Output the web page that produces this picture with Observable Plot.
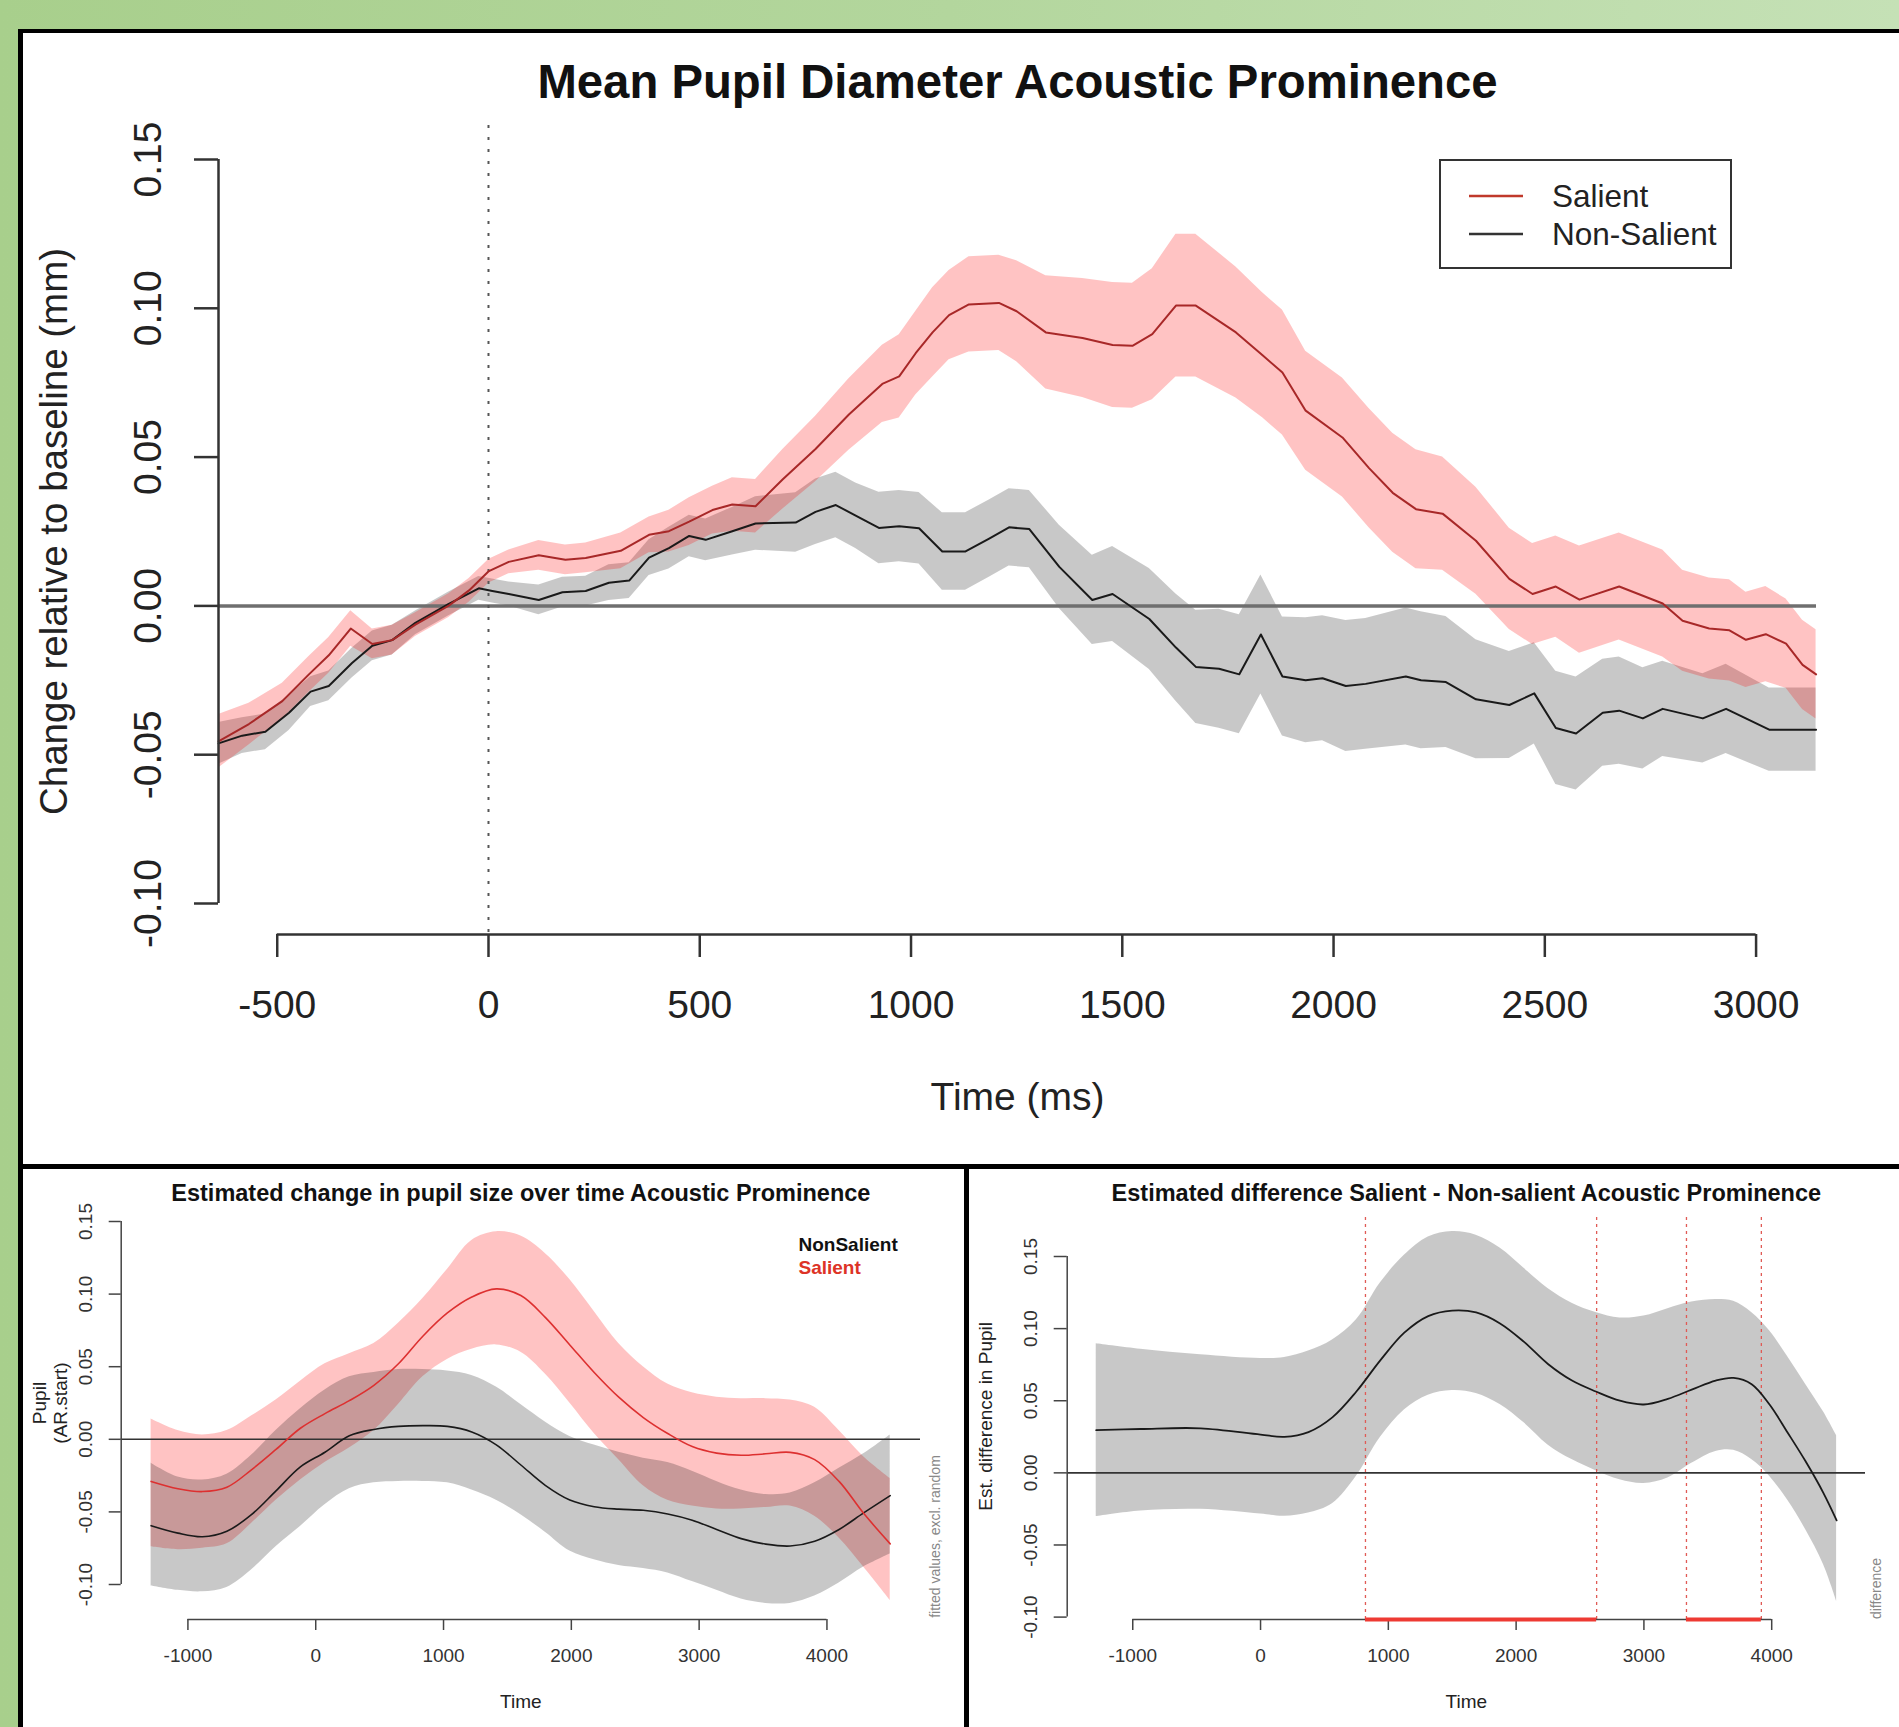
<!DOCTYPE html>
<html><head><meta charset="utf-8">
<script src="https://cdn.jsdelivr.net/npm/d3@7"></script>
<script src="https://cdn.jsdelivr.net/npm/@observablehq/plot@0.6"></script>
<style>
body{margin:0;}
#page{position:relative;width:1899px;height:1727px;background:linear-gradient(90deg,#a8cf8c 0%,#b3d69d 50%,#c5e1b6 100%);overflow:hidden;font-family:"Liberation Sans",Arial,Helvetica,sans-serif;}
#frame{position:absolute;left:18px;top:29px;width:1881px;height:1698px;background:#000;}
.panel{position:absolute;background:#fff;overflow:hidden;}
.panel svg{position:absolute;left:0;top:0;}
#legend{position:absolute;left:1416px;top:126px;width:293px;height:110px;border:2.5px solid #333;box-sizing:border-box;background:#fff;}
</style></head>
<body>
<div id="page">
  <div id="frame"></div>
  <div class="panel" id="top" style="left:23px;top:33px;width:1876px;height:1131px"></div>
  <div class="panel" id="bl" style="left:23px;top:1169px;width:941px;height:558px"></div>
  <div class="panel" id="br" style="left:969px;top:1169px;width:930px;height:558px"></div>
</div>
<script>
// ---------- Top panel: mean pupil diameter ----------
const topSalTime = [-639,-567,-488,-425,-378,-326,-275,-228,-173,-94,-46,1,48,119,182,230,313,380,427,475,530,577,632,696,774,853,932,972,1011,1051,1090,1137,1208,1250,1319,1406,1477,1524,1571,1627,1674,1769,1832,1879,1934,2021,2084,2140,2195,2258,2337,2416,2471,2526,2582,2676,2779,2826,2889,2937,2976,3023,3071,3110,3142];
const topSalMean = [-0.0455,-0.0397,-0.0320,-0.0230,-0.0166,-0.0076,-0.0128,-0.0115,-0.0063,0.0001,0.0052,0.0117,0.0148,0.0170,0.0155,0.0161,0.0185,0.0239,0.0251,0.0283,0.0322,0.0341,0.0335,0.0425,0.0527,0.0643,0.0746,0.0771,0.0849,0.0919,0.0977,0.1013,0.1018,0.0990,0.0919,0.0900,0.0877,0.0874,0.0913,0.1009,0.1009,0.0919,0.0842,0.0784,0.0656,0.0566,0.0463,0.0380,0.0325,0.0310,0.0219,0.0091,0.0040,0.0065,0.0021,0.0065,0.0008,-0.0050,-0.0076,-0.0082,-0.0114,-0.0095,-0.0127,-0.0198,-0.0230];
const topSalSE = [0.009,0.007,0.006,0.006,0.006,0.006,0.005,0.005,0.004,0.004,0.004,0.004,0.004,0.005,0.005,0.005,0.006,0.006,0.007,0.008,0.008,0.009,0.009,0.010,0.011,0.012,0.013,0.014,0.014,0.015,0.015,0.016,0.016,0.017,0.019,0.020,0.021,0.021,0.022,0.024,0.024,0.022,0.021,0.021,0.020,0.020,0.020,0.020,0.020,0.019,0.018,0.017,0.017,0.017,0.018,0.018,0.018,0.017,0.017,0.017,0.016,0.016,0.015,0.015,0.015];

const topNonTime = [-639,-583,-528,-472,-421,-378,-323,-275,-228,-173,-94,-23,9,48,119,175,230,285,333,380,427,475,514,577,632,727,774,822,869,924,972,1019,1074,1129,1185,1232,1280,1351,1429,1477,1564,1627,1674,1729,1777,1828,1879,1934,1974,2029,2076,2171,2207,2266,2337,2416,2475,2526,2574,2637,2676,2732,2779,2874,2929,3031,3142];
const topNonMean = [-0.0462,-0.0436,-0.0423,-0.0359,-0.0288,-0.0269,-0.0192,-0.0134,-0.0115,-0.0057,0.0007,0.0059,0.0050,0.0040,0.0020,0.0046,0.0050,0.0078,0.0085,0.0162,0.0194,0.0235,0.0222,0.0251,0.0277,0.0280,0.0316,0.0339,0.0303,0.0262,0.0268,0.0261,0.0183,0.0183,0.0226,0.0264,0.0258,0.0131,0.0020,0.0040,-0.0044,-0.0140,-0.0205,-0.0211,-0.0230,-0.0096,-0.0237,-0.0250,-0.0243,-0.0269,-0.0262,-0.0237,-0.0250,-0.0256,-0.0314,-0.0333,-0.0294,-0.0410,-0.0429,-0.0359,-0.0352,-0.0378,-0.0346,-0.0378,-0.0346,-0.0416,-0.0416];
const topNonSE = [0.007,0.006,0.006,0.006,0.005,0.005,0.005,0.005,0.005,0.004,0.004,0.004,0.004,0.004,0.005,0.005,0.005,0.006,0.006,0.006,0.007,0.007,0.007,0.008,0.009,0.010,0.011,0.011,0.011,0.012,0.012,0.012,0.013,0.013,0.013,0.013,0.013,0.014,0.015,0.016,0.017,0.018,0.019,0.020,0.020,0.020,0.020,0.021,0.021,0.022,0.022,0.023,0.023,0.022,0.020,0.018,0.017,0.019,0.019,0.018,0.018,0.017,0.016,0.015,0.015,0.014,0.014];

const topXTicks = [-500,0,500,1000,1500,2000,2500,3000];
const topYTicks = [-0.10,-0.05,0.00,0.05,0.10,0.15];

// ---------- Bottom left: GAMM fitted values ----------
const gammTime = [-1288,-1078,-886,-695,-503,-311,-120,72,263,455,647,838,1030,1221,1413,1605,1796,1988,2179,2371,2563,2754,2946,3137,3329,3521,3712,3904,4095,4287,4495];
const salFit = [-0.029,-0.034,-0.036,-0.033,-0.021,-0.007,0.0076,0.0177,0.0266,0.0372,0.052,0.071,0.087,0.098,0.1036,0.099,0.084,0.065,0.046,0.029,0.015,0.004,-0.005,-0.0095,-0.011,-0.010,-0.009,-0.014,-0.029,-0.051,-0.072];
const salHi = [0.014,0.006,0.003,0.006,0.016,0.027,0.040,0.052,0.059,0.066,0.080,0.097,0.117,0.137,0.143,0.140,0.128,0.110,0.088,0.066,0.050,0.038,0.032,0.029,0.028,0.028,0.027,0.022,0.006,-0.012,-0.027];
const salLo = [-0.074,-0.076,-0.075,-0.072,-0.058,-0.042,-0.028,-0.016,-0.006,0.006,0.024,0.043,0.055,0.062,0.065,0.060,0.045,0.025,0.004,-0.014,-0.032,-0.042,-0.046,-0.048,-0.048,-0.047,-0.046,-0.053,-0.068,-0.088,-0.111];
const nonFit = [-0.0595,-0.0646,-0.0671,-0.0633,-0.0519,-0.0355,-0.019,-0.0089,0.0025,0.0068,0.0089,0.0094,0.0089,0.0051,-0.0038,-0.0177,-0.0317,-0.0418,-0.0464,-0.0481,-0.0489,-0.0514,-0.0557,-0.0621,-0.0684,-0.0722,-0.0735,-0.0702,-0.0621,-0.0507,-0.0388];
const nonHi = [-0.0165,-0.026,-0.028,-0.024,-0.011,0.006,0.021,0.034,0.043,0.046,0.048,0.048,0.047,0.044,0.036,0.024,0.012,0.002,-0.004,-0.009,-0.013,-0.016,-0.022,-0.029,-0.035,-0.038,-0.037,-0.030,-0.020,-0.010,0.003];
const nonLo = [-0.101,-0.104,-0.105,-0.102,-0.090,-0.074,-0.060,-0.045,-0.034,-0.030,-0.029,-0.029,-0.030,-0.035,-0.042,-0.052,-0.064,-0.077,-0.083,-0.087,-0.089,-0.092,-0.098,-0.104,-0.110,-0.113,-0.113,-0.108,-0.099,-0.088,-0.079];

// ---------- Bottom right: estimated difference ----------
const diffTime = [-1286,-937,-469,0,187,375,562,750,937,1125,1312,1500,1687,1874,2062,2249,2437,2624,2812,2999,3187,3374,3562,3702,3843,3983,4124,4265,4405,4508];
const diffFit = [0.0296,0.0304,0.0309,0.0265,0.025,0.0283,0.0385,0.0564,0.078,0.0972,0.1087,0.1125,0.1112,0.1036,0.0908,0.0755,0.064,0.0564,0.05,0.0474,0.0513,0.0577,0.064,0.0658,0.0615,0.0474,0.028,0.008,-0.014,-0.0329];
const diffHi = [0.0895,0.0857,0.0819,0.0793,0.080,0.0844,0.0921,0.1061,0.1316,0.1508,0.1635,0.1673,0.1648,0.1559,0.1418,0.1278,0.1176,0.1112,0.1074,0.1087,0.1138,0.1184,0.1202,0.1189,0.1112,0.0985,0.0806,0.0615,0.0423,0.0258];
const diffLo = [-0.0304,-0.0265,-0.0253,-0.0286,-0.030,-0.0278,-0.0214,-0.0023,0.0245,0.0436,0.0538,0.0571,0.0551,0.0474,0.0347,0.0194,0.0092,0.0015,-0.0048,-0.0074,-0.0036,0.0066,0.0148,0.0156,0.0092,-0.0023,-0.0189,-0.0393,-0.0635,-0.089];
const sigStart = [821, 3333];
const sigEnd = [2630, 3919];

const bottomXTicks = [-1000,0,1000,2000,3000,4000];
const bottomYTicks = [-0.10,-0.05,0.00,0.05,0.10,0.15];

const FONT = "Liberation Sans, Arial, Helvetica, sans-serif";
const fmt2 = d => d.toFixed(2);

// ===== Top =====
{
  const W = 1876, H = 1131, mT = 126, mB = 261, mL = 195, mR = 83;
  const xDom = [-639, 3143], yDom = [-0.10, 0.15];
  const perPx = (yDom[1] - yDom[0]) / (H - mT - mB);
  const msPerPx = (xDom[1] - xDom[0]) / (W - mL - mR);
  const yAx = yDom[0] - 31 * perPx;
  const sal = topSalTime.map((t, i) => ({t, m: topSalMean[i], lo: topSalMean[i] - topSalSE[i], hi: topSalMean[i] + topSalSE[i]}));
  const non = topNonTime.map((t, i) => ({t, m: topNonMean[i], lo: topNonMean[i] - topNonSE[i], hi: topNonMean[i] + topNonSE[i]}));
  const svg = Plot.plot({
    width: W, height: H, marginTop: mT, marginBottom: mB, marginLeft: mL, marginRight: mR,
    x: {domain: xDom, axis: null}, y: {domain: yDom, axis: null},
    style: {fontFamily: FONT, background: "transparent", overflow: "visible"},
    marks: [
      Plot.areaY(non, {x: "t", y1: "lo", y2: "hi", fill: "#000", fillOpacity: 0.215}),
      Plot.areaY(sal, {x: "t", y1: "lo", y2: "hi", fill: "#ff0000", fillOpacity: 0.235}),
      Plot.ruleY([0], {stroke: "#6f6f6f", strokeWidth: 3.5}),
      Plot.ruleX([0], {y1: yDom[1] + 34 * perPx, y2: yAx, stroke: "#555", strokeWidth: 2, strokeDasharray: "3,9"}),
      Plot.lineY(non, {x: "t", y: "m", stroke: "#1a1a1a", strokeWidth: 2}),
      Plot.lineY(sal, {x: "t", y: "m", stroke: "#a82828", strokeWidth: 2}),
      // y axis
      Plot.ruleX([xDom[0]], {y1: yDom[0], y2: yDom[1], stroke: "#333", strokeWidth: 2.5}),
      Plot.ruleY(topYTicks, {x1: xDom[0], x2: xDom[0] - 24 * msPerPx, stroke: "#333", strokeWidth: 2.5}),
      Plot.text(topYTicks, {x: xDom[0], y: d => d, dx: -70, rotate: -90, text: fmt2, fontSize: 39, fill: "#222", textAnchor: "middle", lineAnchor: "middle"}),
      Plot.text(["Change relative to baseline (mm)"], {frameAnchor: "left", dx: -163.5, rotate: -90, fontSize: 38.5, fill: "#222", textAnchor: "middle", lineAnchor: "middle"}),
      // x axis
      Plot.ruleY([yAx], {x1: topXTicks[0], x2: topXTicks[topXTicks.length - 1], stroke: "#333", strokeWidth: 2.5}),
      Plot.ruleX(topXTicks, {y1: yAx, y2: yAx - 23 * perPx, stroke: "#333", strokeWidth: 2.5}),
      Plot.text(topXTicks, {x: d => d, y: yDom[0], dy: 102, text: d => String(d), fontSize: 39, fill: "#222", lineAnchor: "middle"}),
      Plot.text(["Time (ms)"], {frameAnchor: "bottom", dy: 194, fontSize: 39, fill: "#222", lineAnchor: "middle"}),
      Plot.text(["Mean Pupil Diameter Acoustic Prominence"], {frameAnchor: "top", dy: -77, fontSize: 47.3, fontWeight: "bold", fill: "#111", lineAnchor: "middle"})
    ]
  });
  const el = document.getElementById("top");
  el.appendChild(svg);
  const lg = document.createElement("div");
  lg.id = "legend";
  lg.innerHTML = `<svg width="288" height="105" style="position:absolute;left:0;top:0">
    <line x1="28" x2="82" y1="35" y2="35" stroke="#c0392b" stroke-width="2.5"/>
    <line x1="28" x2="82" y1="73" y2="73" stroke="#333" stroke-width="2.5"/>
    <text x="111" y="35" dominant-baseline="central" font-family="${FONT}" font-size="31.5" fill="#222">Salient</text>
    <text x="111" y="73" dominant-baseline="central" font-family="${FONT}" font-size="31.5" fill="#222">Non-Salient</text>
  </svg>`;
  el.appendChild(lg);
}

// ===== Bottom left =====
{
  const W = 941, H = 558, mT = 52, mB = 143, mL = 97.7, mR = 44;
  const xDom = [-1522, 4732], yDom = [-0.10, 0.15];
  const perPx = (yDom[1] - yDom[0]) / (H - mT - mB);
  const msPerPx = (xDom[1] - xDom[0]) / (W - mL - mR);
  const yAx = yDom[0] - 35 * perPx;
  const rows = gammTime.map((t, i) => ({t, sf: salFit[i], sh: salHi[i], sl: salLo[i], nf: nonFit[i], nh: nonHi[i], nl: nonLo[i]}));
  const svg = Plot.plot({
    width: W, height: H, marginTop: mT, marginBottom: mB, marginLeft: mL, marginRight: mR,
    x: {domain: xDom, axis: null}, y: {domain: yDom, axis: null},
    style: {fontFamily: FONT, background: "transparent", overflow: "visible"},
    marks: [
      Plot.areaY(rows, {x: "t", y1: "sl", y2: "sh", fill: "#ff0000", fillOpacity: 0.235, curve: "catmull-rom"}),
      Plot.areaY(rows, {x: "t", y1: "nl", y2: "nh", fill: "#000", fillOpacity: 0.215, curve: "catmull-rom"}),
      Plot.ruleY([0], {stroke: "#333", strokeWidth: 1.6}),
      Plot.lineY(rows, {x: "t", y: "nf", stroke: "#1a1a1a", strokeWidth: 1.6, curve: "catmull-rom"}),
      Plot.lineY(rows, {x: "t", y: "sf", stroke: "#dd3030", strokeWidth: 1.6, curve: "catmull-rom"}),
      // y axis
      Plot.ruleX([xDom[0]], {y1: yDom[0], y2: yDom[1], stroke: "#444", strokeWidth: 1.5}),
      Plot.ruleY(bottomYTicks, {x1: xDom[0], x2: xDom[0] - 12 * msPerPx, stroke: "#444", strokeWidth: 1.5}),
      Plot.text(bottomYTicks, {x: xDom[0], y: d => d, dx: -35, rotate: -90, text: fmt2, fontSize: 19, fill: "#333", textAnchor: "middle", lineAnchor: "middle"}),
      Plot.text(["Pupil"], {frameAnchor: "left", dx: -81.7, rotate: -90, fontSize: 19, fill: "#222", textAnchor: "middle", lineAnchor: "middle"}),
      Plot.text(["(AR.start)"], {frameAnchor: "left", dx: -60, rotate: -90, fontSize: 19, fill: "#222", textAnchor: "middle", lineAnchor: "middle"}),
      // x axis
      Plot.ruleY([yAx], {x1: bottomXTicks[0], x2: bottomXTicks[bottomXTicks.length - 1], stroke: "#444", strokeWidth: 1.5}),
      Plot.ruleX(bottomXTicks, {y1: yAx, y2: yAx - 11 * perPx, stroke: "#444", strokeWidth: 1.5}),
      Plot.text(bottomXTicks, {x: d => d, y: yDom[0], dy: 71, text: d => String(d), fontSize: 19, fill: "#333", lineAnchor: "middle"}),
      Plot.text(["Time"], {frameAnchor: "bottom", dy: 117, fontSize: 19, fill: "#222", lineAnchor: "middle"}),
      Plot.text(["Estimated change in pupil size over time Acoustic Prominence"], {frameAnchor: "top", dy: -28, fontSize: 23.5, fontWeight: "bold", fill: "#111", lineAnchor: "middle"}),
      // legend
      Plot.text(["NonSalient"], {frameAnchor: "top-left", dx: 677.3, dy: 23, fontSize: 19, fontWeight: "bold", fill: "#111", textAnchor: "start", lineAnchor: "middle"}),
      Plot.text(["Salient"], {frameAnchor: "top-left", dx: 677.3, dy: 46, fontSize: 19, fontWeight: "bold", fill: "#dd3326", textAnchor: "start", lineAnchor: "middle"}),
      Plot.text(["fitted values, excl. random"], {frameAnchor: "right", dx: 15, dy: 133.5, rotate: -90, fontSize: 14, fill: "#888", textAnchor: "middle", lineAnchor: "middle"})
    ]
  });
  document.getElementById("bl").appendChild(svg);
}

// ===== Bottom right =====
{
  const W = 930, H = 558, mT = 87, mB = 110.4, mL = 97.7, mR = 34;
  const xDom = [-1513, 4734], yDom = [-0.10, 0.15];
  const perPx = (yDom[1] - yDom[0]) / (H - mT - mB);
  const msPerPx = (xDom[1] - xDom[0]) / (W - mL - mR);
  const yAx = yDom[0] - 2.4 * perPx;
  const rows = diffTime.map((t, i) => ({t, f: diffFit[i], hi: diffHi[i], lo: diffLo[i]}));
  const sig = sigStart.map((s, i) => ({from: s, to: sigEnd[i]}));
  const ext = d3.extent([...diffHi, ...diffLo]);
  const yMid = (ext[0] + ext[1]) / 2;
  const svg = Plot.plot({
    width: W, height: H, marginTop: mT, marginBottom: mB, marginLeft: mL, marginRight: mR,
    x: {domain: xDom, axis: null}, y: {domain: yDom, axis: null},
    style: {fontFamily: FONT, background: "transparent", overflow: "visible"},
    marks: [
      Plot.areaY(rows, {x: "t", y1: "lo", y2: "hi", fill: "#000", fillOpacity: 0.215, curve: "catmull-rom"}),
      Plot.ruleY([0], {stroke: "#333", strokeWidth: 1.6}),
      Plot.ruleX([...sigStart, ...sigEnd], {y1: yAx, y2: yDom[1] + 41.6 * perPx, stroke: "#e05a55", strokeWidth: 1.3, strokeDasharray: "3,4"}),
      Plot.lineY(rows, {x: "t", y: "f", stroke: "#1a1a1a", strokeWidth: 1.8, curve: "catmull-rom"}),
      // y axis
      Plot.ruleX([xDom[0]], {y1: yDom[0], y2: yDom[1], stroke: "#444", strokeWidth: 1.5}),
      Plot.ruleY(bottomYTicks, {x1: xDom[0], x2: xDom[0] - 13 * msPerPx, stroke: "#444", strokeWidth: 1.5}),
      Plot.text(bottomYTicks, {x: xDom[0], y: d => d, dx: -36.7, rotate: -90, text: fmt2, fontSize: 19, fill: "#333", textAnchor: "middle", lineAnchor: "middle"}),
      Plot.text(["Est. difference in Pupil"], {x: xDom[0], y: yMid, dx: -81.7, rotate: -90, fontSize: 19, fill: "#222", textAnchor: "middle", lineAnchor: "middle"}),
      // x axis
      Plot.ruleY([yAx], {x1: bottomXTicks[0], x2: bottomXTicks[bottomXTicks.length - 1], stroke: "#444", strokeWidth: 1.5}),
      Plot.ruleX(bottomXTicks, {y1: yAx, y2: yAx - 11 * perPx, stroke: "#444", strokeWidth: 1.5}),
      Plot.ruleY(sig, {x1: "from", x2: "to", y: () => yAx, stroke: "#ee3a33", strokeWidth: 4}),
      Plot.text(bottomXTicks, {x: d => d, y: yDom[0], dy: 38.4, text: d => String(d), fontSize: 19, fill: "#333", lineAnchor: "middle"}),
      Plot.text(["Time"], {frameAnchor: "bottom", dy: 84.4, fontSize: 19, fill: "#222", lineAnchor: "middle"}),
      Plot.text(["Estimated difference Salient - Non-salient Acoustic Prominence"], {frameAnchor: "top", dy: -63, fontSize: 23.5, fontWeight: "bold", fill: "#111", lineAnchor: "middle"}),
      Plot.text(["difference"], {frameAnchor: "right", dx: 11, dy: 151.7, rotate: -90, fontSize: 14, fill: "#888", textAnchor: "middle", lineAnchor: "middle"})
    ]
  });
  document.getElementById("br").appendChild(svg);
}
</script>
</body></html>
